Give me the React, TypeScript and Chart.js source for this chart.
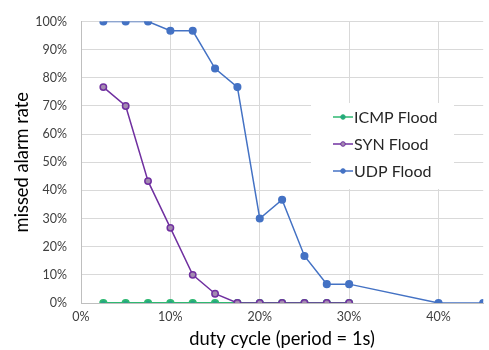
import React, { useEffect, useRef } from "react";
import { Chart, registerables } from "chart.js";

Chart.register(...registerables);

const dutyCycle = [2.5, 5, 7.5, 10, 12.5, 15, 17.5, 20, 22.5, 25, 27.5, 30, 40, 45];
const icmpFlood = [0, 0, 0, 0, 0, 0, 0, 0, 0, 0, 0, 0];
const synFlood = [76.7, 70, 43.3, 26.7, 10, 3.3, 0, 0, 0, 0, 0, 0];
const udpFlood = [100, 100, 100, 96.7, 96.7, 83.3, 76.7, 30, 36.7, 16.7, 6.7, 6.7, 0, 0];
const seriesNames = ["ICMP Flood", "SYN Flood", "UDP Flood"];
const xTickValues = [0, 10, 20, 30, 40];

const FONT = "Lato, 'DejaVu Sans', sans-serif";

const toPoints = (vals: number[]) => vals.map((v, i) => ({ x: dutyCycle[i], y: v }));

const legendPlugin = {
  id: "boxLegend",
  afterDraw(chart: any) {
    const ctx = chart.ctx;
    ctx.save();
    ctx.fillStyle = "#ffffff";
    ctx.fillRect(311, 103, 143, 86);
    const ds = chart.data.datasets;
    ds.forEach((d: any, i: number) => {
      const y = 117 + i * 27;
      ctx.strokeStyle = d.borderColor;
      ctx.lineWidth = 1.5;
      ctx.beginPath();
      ctx.moveTo(333, y);
      ctx.lineTo(353, y);
      ctx.stroke();
      ctx.beginPath();
      ctx.arc(343, y, 2.3, 0, Math.PI * 2);
      ctx.fillStyle = d.pointBackgroundColor;
      ctx.fill();
      ctx.lineWidth = 1;
      ctx.strokeStyle = d.pointBorderColor;
      ctx.stroke();
      ctx.fillStyle = "#262626";
      ctx.font = `16px ${FONT}`;
      ctx.textBaseline = "middle";
      ctx.textAlign = "left";
      ctx.fillText(d.label, 354, y + 1);
    });
    ctx.restore();
  },
};

export default function App() {
  const ref = useRef<HTMLCanvasElement>(null);
  useEffect(() => {
    document.body.style.margin = "0";
    const chart = new Chart(ref.current!, {
      type: "line",
      data: {
        datasets: [
          {
            label: seriesNames[0],
            data: toPoints(icmpFlood),
            borderColor: "#2EB872",
            backgroundColor: "#2EB872",
            pointBackgroundColor: "#26A383",
            pointBorderColor: "#2EB872",
            pointRadius: 3.2,
            borderWidth: 1.8,
            order: 3,
          },
          {
            label: seriesNames[1],
            data: toPoints(synFlood),
            borderColor: "#7030A0",
            backgroundColor: "#7030A0",
            pointBackgroundColor: "#A38AB0",
            pointBorderColor: "#7030A0",
            pointRadius: 3.2,
            borderWidth: 1.5,
            order: 2,
          },
          {
            label: seriesNames[2],
            data: toPoints(udpFlood),
            borderColor: "#4472C4",
            backgroundColor: "#4472C4",
            pointBackgroundColor: "#4472C4",
            pointBorderColor: "#4472C4",
            pointRadius: 3.3,
            borderWidth: 1.5,
            order: 1,
          },
        ],
      },
      options: {
        animation: false,
        responsive: false,
        maintainAspectRatio: false,
        layout: { padding: { left: 0, right: 4, top: 13, bottom: 0 } },
        plugins: { legend: { display: false }, tooltip: { enabled: false } },
        scales: {
          x: {
            type: "linear",
            min: 0,
            max: 45,
            afterBuildTicks: (s: any) => {
              s.ticks = xTickValues.map((v) => ({ value: v }));
            },
            afterFit: (s: any) => {
              s.height = 47;
            },
            ticks: {
              callback: (v: any) => v + "%",
              font: { family: FONT, size: 12.5 },
              color: "#404040",
              padding: 6,
              maxRotation: 0,
            },
            grid: { color: "#D9D9D9", drawTicks: false },
            border: { color: "#BFBFBF" },
            title: {
              display: true,
              text: "duty cycle (period = 1s)",
              font: { family: FONT, size: 18.3 },
              color: "#000000",
              padding: { top: 0, bottom: 0 },
            },
          },
          y: {
            min: 0,
            max: 100,
            ticks: {
              stepSize: 10,
              callback: (v: any) => v + "%",
              font: { family: FONT, size: 12.5 },
              color: "#404040",
              padding: 14,
            },
            afterFit: (s: any) => {
              s.width = 81;
            },
            grid: { color: "#D9D9D9", drawTicks: false },
            border: { color: "#BFBFBF" },
            title: {
              display: true,
              text: "missed alarm rate",
              font: { family: FONT, size: 18.3 },
              color: "#000000",
              padding: { top: 11, bottom: 0 },
            },
          },
        },
      },
      plugins: [legendPlugin],
    });
    return () => chart.destroy();
  }, []);
  return (
    <div style={{ position: "absolute", left: 0, top: 0, width: 489, height: 350 }}>
      <canvas ref={ref} width={489} height={350} style={{ width: 489, height: 350 }} />
    </div>
  );
}
